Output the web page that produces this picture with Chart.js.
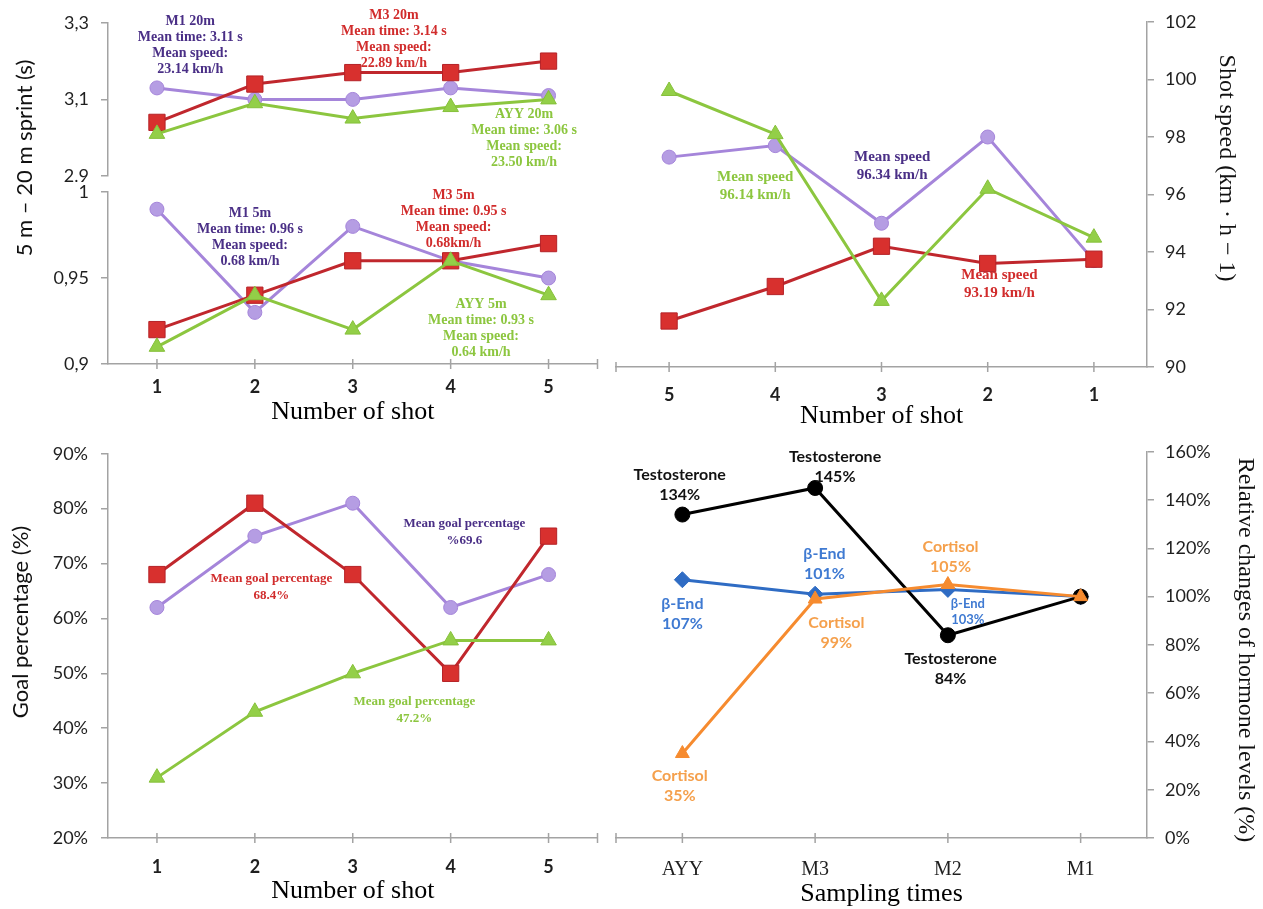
<!DOCTYPE html>
<html>
<head>
<meta charset="utf-8">
<script src="https://cdn.jsdelivr.net/npm/chart.js@4.4.1/dist/chart.umd.min.js"></script>
<style>
  html, body { margin: 0; padding: 0; background: #ffffff; }
  #board { position: relative; width: 1263px; height: 909px; overflow: hidden; background: #ffffff; }
  #board canvas { position: absolute; }
</style>
</head>
<body>
<div id="board">
  <canvas id="sprint20" width="610" height="430" style="left:0;top:0"></canvas>
  <canvas id="sprint5" width="610" height="430" style="left:0;top:0"></canvas>
  <canvas id="shotSpeed" width="663" height="430" style="left:600px;top:0"></canvas>
  <canvas id="goals" width="610" height="479" style="left:0;top:430px"></canvas>
  <canvas id="hormones" width="663" height="479" style="left:600px;top:430px"></canvas>
</div>
<script>
// ---- data ----------------------------------------------------------
const shotLabels = ['1', '2', '3', '4', '5'];
const shotLabelsReversed = ['5', '4', '3', '2', '1'];
const samplingLabels = ['AYY', 'M3', 'M2', 'M1'];

// 20 m sprint time (s) per shot
const sprint20M1 = [3.13, 3.10, 3.10, 3.13, 3.11];
const sprint20M3 = [3.04, 3.14, 3.17, 3.17, 3.20];
const sprint20AYY = [3.01, 3.09, 3.05, 3.08, 3.10];
const sprint20Ticks = [2.9, 3.1, 3.3];
const sprint20TickLabels = ['2.9', '3,1', '3,3'];

// 5 m sprint time (s) per shot
const sprint5M1 = [0.99, 0.93, 0.98, 0.96, 0.95];
const sprint5M3 = [0.92, 0.94, 0.96, 0.96, 0.97];
const sprint5AYY = [0.91, 0.94, 0.92, 0.96, 0.94];
const sprint5Ticks = [0.9, 0.95, 1];
const sprint5TickLabels = ['0,9', '0,95', '1'];

// shot speed (km/h), shots listed 5 -> 1
const shotSpeedM1 = [97.3, 97.7, 95.0, 98.0, 93.7];
const shotSpeedM3 = [91.6, 92.8, 94.2, 93.6, 93.75];
const shotSpeedAYY = [99.6, 98.1, 92.3, 96.2, 94.5];
const shotSpeedTicks = [90, 92, 94, 96, 98, 100, 102];

// goal percentage (%) per shot
const goalM1 = [62, 75, 81, 62, 68];
const goalM3 = [68, 81, 68, 50, 75];
const goalAYY = [31, 43, 50, 56, 56];
const goalTicks = [20, 30, 40, 50, 60, 70, 80, 90];

// relative hormone levels (%)
const testosterone = [134, 145, 84, 100];
const betaEnd = [107, 101, 103, 100];
const cortisol = [35, 99, 105, 100];
const hormoneTicks = [0, 20, 40, 60, 80, 100, 120, 140, 160];

// ---- styling -------------------------------------------------------
const AXIS = '#a3a3a3';
const TICK_TEXT = '#1f1f1f';
const SANS = 'Lato, "Open Sans", "Liberation Sans", sans-serif';
const SERIF = '"Liberation Serif", "DejaVu Serif", serif';

const look = {
  M1:  { borderColor: '#a585da', backgroundColor: '#b59de3', pointBorderColor: '#a585da', pointStyle: 'circle', pointRadius: 7, order: 2 },
  M3:  { borderColor: '#c0272d', backgroundColor: '#d8302e', pointBorderColor: '#b52227', pointStyle: 'rect', pointRadius: 11.5, order: 1 },
  AYY: { borderColor: '#8cc63f', backgroundColor: '#93cf48', pointBorderColor: '#86c03a', pointStyle: 'triangle', pointRadius: 9, order: 0 },
  testo: { borderColor: '#000000', backgroundColor: '#000000', pointBorderColor: '#000000', pointStyle: 'circle', pointRadius: 7.5, order: 1 },
  bend:  { borderColor: '#2f6cc4', backgroundColor: '#2f6cc4', pointBorderColor: '#2f6cc4', pointStyle: 'rectRot', pointRadius: 8, order: 2 },
  cort:  { borderColor: '#f68b2f', backgroundColor: '#f68b2f', pointBorderColor: '#f68b2f', pointStyle: 'triangle', pointRadius: 8, order: 0 }
};

const TEXT = {
  purple: '#4a2f86', red: '#d12c2c', green: '#8cc63f',
  black: '#111111', blue: '#3f7ad2', orange: '#f5a04c'
};

function series(data, key) {
  const s = look[key];
  return {
    data: data,
    borderColor: s.borderColor,
    backgroundColor: s.backgroundColor,
    pointBackgroundColor: s.backgroundColor,
    pointBorderColor: s.pointBorderColor,
    pointBorderWidth: 1,
    pointStyle: s.pointStyle,
    pointRadius: s.pointRadius,
    borderWidth: 3,
    tension: 0,
    fill: false,
    clip: false,
    order: s.order
  };
}

function yAxis(cfg) {
  return {
    type: 'linear',
    position: cfg.position,
    min: cfg.min,
    max: cfg.max,
    afterFit(scale) { scale.width = cfg.width; },
    afterBuildTicks(scale) { scale.ticks = cfg.values.map(v => ({ value: v })); },
    ticks: {
      autoSkip: false,
      padding: cfg.padding,
      color: TICK_TEXT,
      font: { family: SANS, size: 18, weight: cfg.weight || 'normal', lineHeight: 1.2 },
      callback: cfg.format
    },
    grid: { display: true, drawOnChartArea: false, drawTicks: true, tickLength: 7, color: AXIS, lineWidth: 1.5 },
    border: { display: true, color: AXIS, width: 1.5 }
  };
}

function xAxis(cfg) {
  return {
    type: 'category',
    offset: true,
    display: cfg.display !== false,
    afterFit(scale) { if (cfg.height) scale.height = cfg.height; },
    ticks: {
      autoSkip: false,
      maxRotation: 0,
      padding: cfg.padding || 0,
      color: TICK_TEXT,
      font: cfg.font || { family: SANS, size: 18, weight: 'bold', lineHeight: 1.2 }
    },
    grid: { display: false },
    border: { display: true, color: AXIS, width: 1.5 },
    title: cfg.title ? {
      display: true,
      text: cfg.title,
      color: '#000000',
      font: { family: SERIF, size: 26, lineHeight: 1 },
      padding: { top: 0, bottom: cfg.titlePad }
    } : { display: false }
  };
}

// text blocks anchored at (category index, value) through the chart scales
const notesPlugin = {
  id: 'notes',
  afterDatasetsDraw(chart, args, opts) {
    const items = (opts && opts.items) || [];
    const ctx = chart.ctx;
    const xs = chart.scales.x, ys = chart.scales.y;
    items.forEach(n => {
      const px = xs.getPixelForValue(n.at[0]);
      const py = ys.getPixelForValue(n.at[1]);
      ctx.save();
      ctx.font = n.font;
      ctx.fillStyle = n.color;
      ctx.textAlign = 'center';
      ctx.textBaseline = 'middle';
      n.lines.forEach((t, k) => ctx.fillText(t, px, py + k * n.step));
      ctx.restore();
    });
  }
};

// Excel-like tick marks that cross the category axis, plus the closing tick
const crossTicksPlugin = {
  id: 'crossTicks',
  afterDraw(chart, args, opts) {
    if (!opts || !opts.show) return;
    const ctx = chart.ctx, xs = chart.scales.x, area = chart.chartArea;
    const base = area.bottom;
    const marks = xs.ticks.map((t, i) => xs.getPixelForTick(i));
    marks.push(opts.closeAt === 'left' ? area.left : area.right);
    ctx.save();
    ctx.strokeStyle = AXIS;
    ctx.lineWidth = 1.5;
    ctx.beginPath();
    marks.forEach(px => { ctx.moveTo(px, base - 5); ctx.lineTo(px, base + 5); });
    ctx.stroke();
    ctx.restore();
  }
};

// rotated value-axis caption
const sideTitlePlugin = {
  id: 'sideTitle',
  afterDraw(chart, args, o) {
    if (!o || !o.text) return;
    const ctx = chart.ctx;
    ctx.save();
    ctx.translate(o.x, o.y);
    ctx.rotate(o.rotation);
    ctx.font = o.font;
    ctx.fillStyle = o.color || '#000000';
    ctx.textAlign = 'center';
    ctx.textBaseline = 'middle';
    ctx.fillText(o.text, 0, 0);
    ctx.restore();
  }
};

const basePlugins = [notesPlugin, crossTicksPlugin, sideTitlePlugin];

function baseOptions(extra) {
  return Object.assign({
    responsive: false,
    animation: false,
    devicePixelRatio: 1,
    events: []
  }, extra);
}

const fromList = (list) => (value, index) => list[index];
const percent = (value) => value + '%';

const serifNote = (size) => 'bold ' + size + 'px ' + SERIF;
const sansNote = (size) => 'bold ' + size + 'px ' + SANS;

// ---- 20 m sprint --------------------------------------------------
new Chart(document.getElementById('sprint20'), {
  type: 'line',
  data: {
    labels: shotLabels,
    datasets: [series(sprint20M1, 'M1'), series(sprint20M3, 'M3'), series(sprint20AYY, 'AYY')]
  },
  plugins: basePlugins,
  options: baseOptions({
    layout: { padding: { left: 0, top: 19, right: 11, bottom: 254 } },
    scales: {
      x: xAxis({ display: false }),
      y: yAxis({ position: 'left', min: 2.9, max: 3.3, width: 108, padding: 12, values: sprint20Ticks, format: fromList(sprint20TickLabels) })
    },
    plugins: {
      legend: { display: false },
      tooltip: { enabled: false },
      notes: {
        items: [
          { at: [0.34, 3.3025], step: 16, font: serifNote(14), color: TEXT.purple,
            lines: ['M1 20m', 'Mean time: 3.11 s', 'Mean speed:', '23.14 km/h'] },
          { at: [2.42, 3.32], step: 16, font: serifNote(14), color: TEXT.red,
            lines: ['M3 20m', 'Mean time: 3.14 s', 'Mean speed:', '22.89 km/h'] },
          { at: [3.75, 3.0605], step: 16, font: serifNote(14), color: TEXT.green,
            lines: ['AYY 20m', 'Mean time: 3.06 s', 'Mean speed:', '23.50 km/h'] }
        ]
      },
      sideTitle: { text: '5 m \u2013 20 m sprint (s)', x: 25, y: 158, rotation: -Math.PI / 2, font: '22px ' + SANS, color: '#111111' }
    }
  })
});

// ---- 5 m sprint ---------------------------------------------------
new Chart(document.getElementById('sprint5'), {
  type: 'line',
  data: {
    labels: shotLabels,
    datasets: [series(sprint5M1, 'M1'), series(sprint5M3, 'M3'), series(sprint5AYY, 'AYY')]
  },
  plugins: basePlugins,
  options: baseOptions({
    layout: { padding: { left: 0, top: 192, right: 11, bottom: 0 } },
    scales: {
      x: xAxis({ height: 66, padding: 4, title: 'Number of shot', titlePad: 5 }),
      y: yAxis({ position: 'left', min: 0.9, max: 1, width: 108, padding: 12, values: sprint5Ticks, format: fromList(sprint5TickLabels) })
    },
    plugins: {
      legend: { display: false },
      tooltip: { enabled: false },
      crossTicks: { show: true, closeAt: 'right' },
      notes: {
        items: [
          { at: [0.95, 0.9878], step: 16, font: serifNote(14), color: TEXT.purple,
            lines: ['M1 5m', 'Mean time: 0.96 s', 'Mean speed:', '0.68 km/h'] },
          { at: [3.03, 0.9983], step: 16, font: serifNote(14), color: TEXT.red,
            lines: ['M3 5m', 'Mean time: 0.95 s', 'Mean speed:', '0.68km/h'] },
          { at: [3.31, 0.9349], step: 16, font: serifNote(14), color: TEXT.green,
            lines: ['AYY 5m', 'Mean time: 0.93 s', 'Mean speed:', '0.64 km/h'] }
        ]
      }
    }
  })
});

// ---- shot speed ---------------------------------------------------
new Chart(document.getElementById('shotSpeed'), {
  type: 'line',
  data: {
    labels: shotLabelsReversed,
    datasets: [series(shotSpeedM1, 'M1'), series(shotSpeedM3, 'M3'), series(shotSpeedAYY, 'AYY')]
  },
  plugins: basePlugins,
  options: baseOptions({
    layout: { padding: { left: 16, top: 22, right: 0, bottom: 0 } },
    scales: {
      x: xAxis({ height: 63, padding: 9, title: 'Number of shot', titlePad: 1 }),
      y: yAxis({ position: 'right', min: 90, max: 102, width: 116, padding: 11, values: shotSpeedTicks, format: (v) => String(v) })
    },
    plugins: {
      legend: { display: false },
      tooltip: { enabled: false },
      crossTicks: { show: true, closeAt: 'left' },
      notes: {
        items: [
          { at: [0.81, 96.61], step: 18, font: serifNote(15), color: TEXT.green,
            lines: ['Mean speed', '96.14 km/h'] },
          { at: [2.10, 97.30], step: 18, font: serifNote(15), color: TEXT.purple,
            lines: ['Mean speed', '96.34 km/h'] },
          { at: [3.11, 93.20], step: 18, font: serifNote(15), color: TEXT.red,
            lines: ['Mean speed', '93.19 km/h'] }
        ]
      },
      sideTitle: { text: 'Shot speed (km \u00b7 h \u2212 1)', x: 626, y: 168, rotation: Math.PI / 2, font: '24px ' + SERIF, color: '#111111' }
    }
  })
});

// ---- goal percentage ----------------------------------------------
new Chart(document.getElementById('goals'), {
  type: 'line',
  data: {
    labels: shotLabels,
    datasets: [series(goalM1, 'M1'), series(goalM3, 'M3'), series(goalAYY, 'AYY')]
  },
  plugins: basePlugins,
  options: baseOptions({
    layout: { padding: { left: 0, top: 13, right: 11, bottom: 0 } },
    scales: {
      x: xAxis({ height: 71, padding: 10, title: 'Number of shot', titlePad: 5 }),
      y: yAxis({ position: 'left', min: 20, max: 90, width: 108, padding: 13, values: goalTicks, format: percent })
    },
    plugins: {
      legend: { display: false },
      tooltip: { enabled: false },
      crossTicks: { show: true, closeAt: 'right' },
      notes: {
        items: [
          { at: [3.14, 77.24], step: 17, font: serifNote(13), color: TEXT.purple,
            lines: ['Mean goal percentage', '%69.6'] },
          { at: [1.17, 67.3], step: 17, font: serifNote(13), color: TEXT.red,
            lines: ['Mean goal percentage', '68.4%'] },
          { at: [2.63, 44.8], step: 17, font: serifNote(13), color: TEXT.green,
            lines: ['Mean goal percentage', '47.2%'] }
        ]
      },
      sideTitle: { text: 'Goal percentage (%)', x: 21, y: 192, rotation: -Math.PI / 2, font: '22px ' + SANS, color: '#111111' }
    }
  })
});

// ---- hormone levels -----------------------------------------------
new Chart(document.getElementById('hormones'), {
  type: 'line',
  data: {
    labels: samplingLabels,
    datasets: [series(testosterone, 'testo'), series(betaEnd, 'bend'), series(cortisol, 'cort')]
  },
  plugins: basePlugins,
  options: baseOptions({
    layout: { padding: { left: 16, top: 21, right: 0, bottom: 0 } },
    scales: {
      x: xAxis({ height: 71, padding: 12, title: 'Sampling times', titlePad: 2,
                 font: { family: SERIF, size: 20, lineHeight: 1.2 } }),
      y: yAxis({ position: 'right', min: 0, max: 160, width: 116, padding: 11, values: hormoneTicks, format: percent })
    },
    plugins: {
      legend: { display: false },
      tooltip: { enabled: false },
      crossTicks: { show: true, closeAt: 'left' },
      notes: {
        items: [
          { at: [-0.02, 150.5], step: 20, font: sansNote(16), color: TEXT.black,
            lines: ['Testosterone', testosterone[0] + '%'] },
          { at: [1.15, 157.9], step: 20, font: sansNote(16), color: TEXT.black,
            lines: ['Testosterone', testosterone[1] + '%'] },
          { at: [2.02, 74.4], step: 20, font: sansNote(16), color: TEXT.black,
            lines: ['Testosterone', testosterone[2] + '%'] },
          { at: [0.0, 97.2], step: 20, font: sansNote(16), color: TEXT.blue,
            lines: ['\u03b2-End', betaEnd[0] + '%'] },
          { at: [1.07, 117.8], step: 20, font: sansNote(16), color: TEXT.blue,
            lines: ['\u03b2-End', betaEnd[1] + '%'] },
          { at: [2.15, 97.2], step: 16, font: sansNote(13), color: TEXT.blue,
            lines: ['\u03b2-End', betaEnd[2] + '%'] },
          { at: [2.02, 120.7], step: 20, font: sansNote(16), color: TEXT.orange,
            lines: ['Cortisol', cortisol[2] + '%'] },
          { at: [1.16, 89.3], step: 20, font: sansNote(16), color: TEXT.orange,
            lines: ['Cortisol', cortisol[1] + '%'] },
          { at: [-0.02, 25.6], step: 20, font: sansNote(16), color: TEXT.orange,
            lines: ['Cortisol', cortisol[0] + '%'] }
        ]
      },
      sideTitle: { text: 'Relative changes of hormone levels (%)', x: 645, y: 220, rotation: Math.PI / 2, font: '24px ' + SERIF, color: '#111111' }
    }
  })
});
</script>
</body>
</html>
